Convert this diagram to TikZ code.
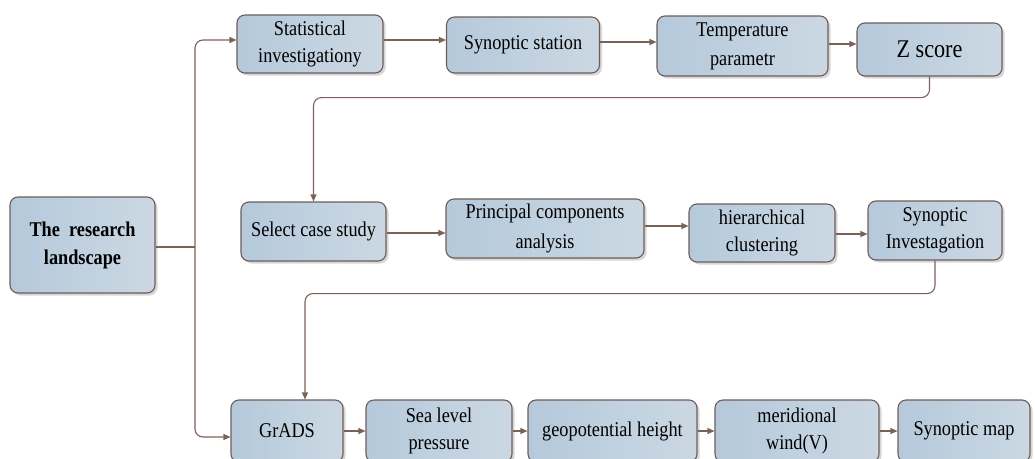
\documentclass[tikz,border=0pt]{standalone}
\usepackage{fontspec}
\setmainfont[FakeStretch=0.87]{Liberation Serif}
\usetikzlibrary{arrows.meta,shadows,calc}
\definecolor{bd}{HTML}{6E5C58}
\definecolor{ar}{HTML}{7B6259}
\definecolor{fl}{HTML}{B5C9DB}
\definecolor{fr}{HTML}{CBD8E3}
\tikzset{
 box/.style={draw=bd, line width=1.1pt, rounded corners=8pt, left color=fl, right color=fr, align=center, inner sep=2pt,
   font=\fontsize{21}{27}\selectfont,
   drop shadow={shadow xshift=2.5pt,shadow yshift=-2.5pt,opacity=0.35,fill=black!45}},
 conn/.style={draw=ar, line width=1.1pt, -{Triangle[length=7pt,width=6pt]}},
 plainline/.style={draw=ar, line width=1.1pt}
}
\begin{document}
\begin{tikzpicture}[x=1pt,y=-1pt]
\useasboundingbox (0,0) rectangle (1035,458);
% main
\node[box, minimum width=145pt, minimum height=96pt, font=\bfseries\fontsize{21}{28}\selectfont] (main) at (82.5,245) {The\ \ research\\landscape};
% row 1
\node[box, minimum width=146pt, minimum height=58pt] (stat) at (310,44) {Statistical\\investigationy};
\node[box, minimum width=153pt, minimum height=56pt] (syn) at (523,45) {Synoptic station};
\node[box, minimum width=171pt, minimum height=60pt, font=\fontsize{21}{29}\selectfont] (temp) at (742.5,46) {Temperature\\parametr};
\node[box, minimum width=145pt, minimum height=53pt, font=\fontsize{25.5}{28}\selectfont] (z) at (929.5,49.5) {Z score};
% row 2
\node[box, minimum width=145pt, minimum height=59pt] (sel) at (313.5,231.5) {Select case study};
\node[box, minimum width=198pt, minimum height=59pt, font=\fontsize{21}{30}\selectfont] (pca) at (545,228.5) {Principal components\\analysis};
\node[box, minimum width=146pt, minimum height=58pt] (hier) at (762,233) {hierarchical\\clustering};
\node[box, minimum width=134pt, minimum height=59pt] (sinv) at (935,230.5) {Synoptic\\Investagation};
% row 3
\node[box, minimum width=112pt, minimum height=62pt] (grads) at (287,431) {GrADS};
\node[box, minimum width=146pt, minimum height=62pt] (sea) at (439,431) {Sea level\\pressure};
\node[box, minimum width=169pt, minimum height=62pt] (geo) at (612.5,431) {geopotential height};
\node[box, minimum width=164pt, minimum height=62pt] (mer) at (797,431) {meridional\\wind(V)};
\node[box, minimum width=132pt, minimum height=62pt] (map) at (964,431) {Synoptic map};
% connectors
\coordinate (j) at (195,247);
\draw[plainline] (main.east |- j) -- (j);
\draw[conn, rounded corners=8pt] (j) |- ([yshift=4pt]stat.west);
\draw[conn, rounded corners=8pt] (j) |- ([yshift=-6pt]grads.west);
\draw[conn] ([yshift=4pt]stat.east) -- ([yshift=4pt]stat.east -| syn.west);
\draw[conn] ([yshift=3pt]syn.east) -- ([yshift=3pt]syn.east -| temp.west);
\draw[conn] ([yshift=2pt]temp.east) -- ([yshift=2pt]temp.east -| z.west);
\draw[conn, rounded corners=8pt] (z.south) -- ++(0,21) -| (sel.north);
\draw[conn] ([yshift=-1.5pt]sel.east) -- ([yshift=-1.5pt]sel.east -| pca.west);
\draw[conn] ([yshift=2.5pt]pca.east) -- ([yshift=2.5pt]pca.east -| hier.west);
\draw[conn] ([yshift=-1pt]hier.east) -- ([yshift=-1pt]hier.east -| sinv.west);
\draw[conn, rounded corners=8pt] (sinv.south) -- ++(0,33) -| ([xshift=18pt]grads.north);
\draw[conn] (grads.east) -- (grads.east -| sea.west);
\draw[conn] (sea.east) -- (sea.east -| geo.west);
\draw[conn] (geo.east) -- (geo.east -| mer.west);
\draw[conn] (mer.east) -- (mer.east -| map.west);
\end{tikzpicture}
\end{document}
